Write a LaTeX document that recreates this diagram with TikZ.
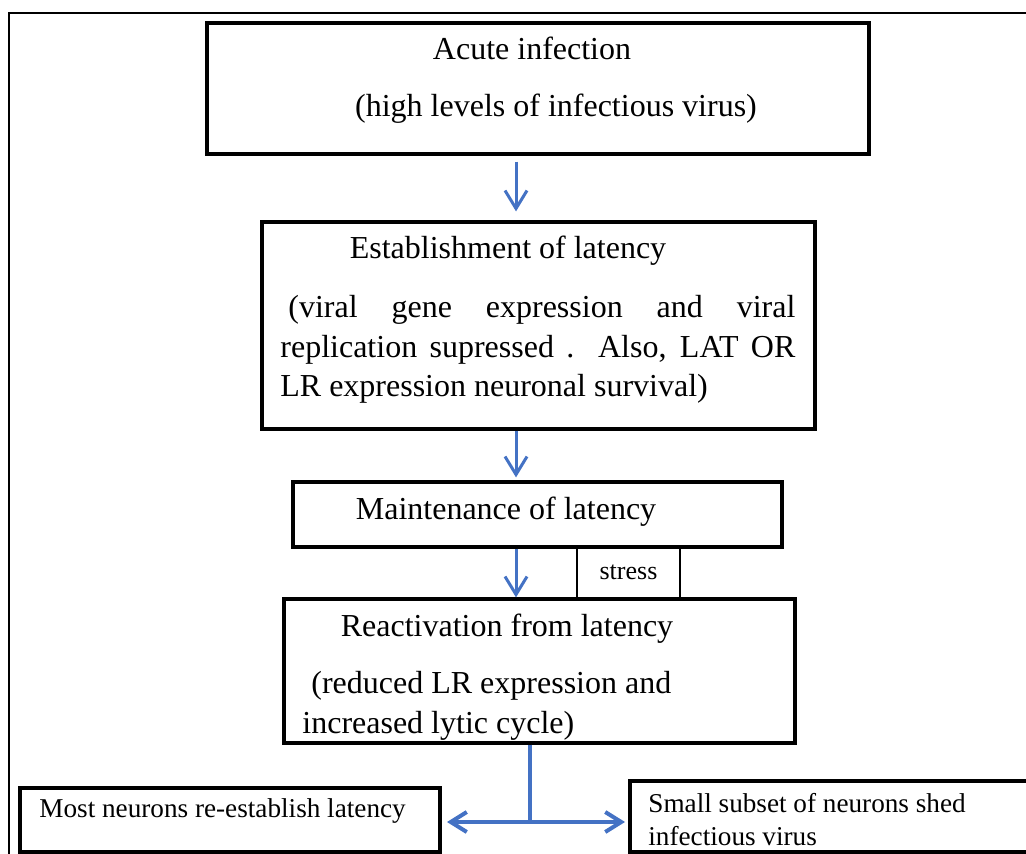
\documentclass[tikz,border=0pt]{standalone}
\usepackage{fontspec}
\setmainfont{Liberation Serif}
\usetikzlibrary{arrows.meta}
\definecolor{flowblue}{HTML}{4472C4}
\hyphenpenalty=10000
\tolerance=10000

\begin{document}
\begin{tikzpicture}[x=0.5pt, y=-0.5pt,
  flowbox/.style={draw=black, line width=1.6pt, rectangle, inner sep=0pt},
  txt/.style={inner sep=0pt, anchor=base, font=\fontsize{16}{19.75}\selectfont},
  smalltxt/.style={inner sep=0pt, anchor=base west, font=\fontsize{13.6}{16.5}\selectfont},
  flow/.style={draw=flowblue, line width=1.5pt, -{Straight Barb[length=9pt, width=11pt]}},
  forkline/.style={draw=flowblue, line width=2pt},
  forkarrow/.style={forkline, {Straight Barb[length=8pt, width=10pt]}-{Straight Barb[length=8pt, width=10pt]}}]
\useasboundingbox (0,0) rectangle (1026,854);
\clip (0,0) rectangle (1026,854);

% outer frame
\draw[line width=1pt] (9,854) |- (1026,13);

% boxes
\node[flowbox, minimum width=331pt, minimum height=65.5pt] (acute) at (538,88.5) {};
\node[flowbox, minimum width=276.5pt, minimum height=103.5pt] (estab) at (538.5,325.5) {};
\node[flowbox, minimum width=244.5pt, minimum height=32.5pt] (maint) at (537.5,514.5) {};
\node[draw, line width=0.7pt, inner sep=0pt, minimum width=51.5pt, minimum height=25.5pt,
      font=\fontsize{13}{15}\selectfont] (stress) at (628.5,572.5) {stress};
\node[flowbox, minimum width=255.5pt, minimum height=72pt] (react) at (539.5,671) {};
\node[flowbox, line width=2pt, minimum width=210pt, minimum height=32pt] (relat) at (230,820) {};
\node[flowbox, line width=2pt, minimum width=210pt, minimum height=35.5pt] (shed) at (840,816.5) {};

% texts
\node[txt] (acute-t) at (532,60) {Acute infection};
\node[txt] (acute-b) at (556,117) {(high levels of infectious virus)};
\node[txt] (estab-t) at (508,259) {Establishment of latency};
\node[txt, anchor=base west, text width=257.5pt, align=justify] (estab-b) at (280,318)
  {\hspace*{4pt}(viral gene expression and viral replication supressed . Also, LAT OR LR expression neuronal survival)};
\node[txt] (maint-t) at (506,519) {Maintenance of latency};
\node[txt] (react-t) at (507,636) {Reactivation from latency};
\node[txt, anchor=base west, align=left] (react-b) at (302,733)
  {\hspace*{4.5pt}(reduced LR expression and\\increased lytic cycle)};
\node[smalltxt] (relat-t) at (39,817) {Most neurons re-establish latency};
\node[smalltxt, align=left] (shed-t) at (648,845) {Small subset of neurons shed\\infectious virus};

% connectors
\coordinate (spine) at (516,0);
\coordinate (fork) at (530,822);
\draw[flow, shorten <=3pt, shorten >=4.5pt] (acute.south -| spine) -- (estab.north -| spine);
\draw[flow, shorten >=1.5pt] (estab.south -| spine) -- (maint.north -| spine);
\draw[flow] (maint.south -| spine) -- (react.north -| spine);
\draw[forkline] (react.south -| fork) -- (fork);
\draw[forkarrow, shorten <=2.5pt, shorten >=1.5pt] (fork -| relat.east) -- (fork -| shed.west);
\end{tikzpicture}
\end{document}
